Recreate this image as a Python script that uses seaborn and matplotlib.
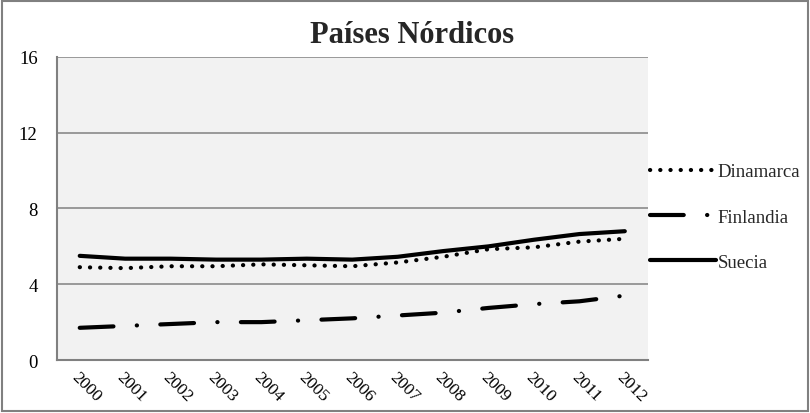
import pandas as pd
import matplotlib.pyplot as plt
import seaborn as sns
from matplotlib.patches import Rectangle

# Data
years = [str(y) for y in range(2000, 2013)]
dinamarca = [4.9, 4.85, 4.95, 4.95, 5.05, 5.0, 4.95, 5.15, 5.45, 5.85, 5.95, 6.25, 6.4]
finlandia = [1.7, 1.8, 1.9, 2.0, 2.0, 2.1, 2.2, 2.35, 2.5, 2.75, 2.95, 3.1, 3.4]
suecia = [5.5, 5.35, 5.35, 5.3, 5.3, 5.35, 5.3, 5.45, 5.75, 6.0, 6.35, 6.65, 6.8]
yticks = [0, 4, 8, 12, 16]

df = pd.DataFrame({"year": years, "Dinamarca": dinamarca,
                   "Finlandia": finlandia, "Suecia": suecia})
long = df.melt(id_vars="year", var_name="pais", value_name="valor")

sns.set_theme(style="white")
plt.rcParams["font.family"] = ["Liberation Serif", "DejaVu Serif"]

fig = plt.figure(figsize=(8.1, 4.14), dpi=100)
ax = fig.add_axes([0.0704, 0.128, 0.729, 0.732])
ax.set_facecolor("#f2f2f2")

styles = {
    "Dinamarca": dict(lw=3.0, ls=(0, (0.05, 2.4)), dash_capstyle="round"),
    "Finlandia": dict(lw=3.0, ls=(0, (8.1, 5.6, 0.05, 5.6)), dash_capstyle="round"),
    "Suecia": dict(lw=3.0, ls="-", solid_capstyle="round"),
}
for pais in ["Dinamarca", "Finlandia", "Suecia"]:
    sub = long[long["pais"] == pais]
    sns.lineplot(data=sub, x="year", y="valor", ax=ax, color="black",
                 label=pais, sort=False, **styles[pais])

ax.set_xlim(-0.5, len(years) - 0.5)
ax.set_ylim(0, 16)
ax.set_yticks(yticks)
ax.grid(axis="y", color="#8a8a8a", lw=1.2)
ax.set_axisbelow(True)
ax.set_xlabel("")
ax.set_ylabel("")
for s in ["top", "right"]:
    ax.spines[s].set_visible(False)
for s in ["left", "bottom"]:
    ax.spines[s].set_color("#808080")
    ax.spines[s].set_linewidth(1.5)
ax.tick_params(axis="both", length=0, colors="black")
ax.tick_params(axis="y", pad=14, labelsize=13.5)
ax.tick_params(axis="x", pad=6, labelsize=12.5)
plt.setp(ax.get_xticklabels(), rotation=-45, ha="left", rotation_mode="anchor")

fig.text(0.509, 0.896, "Países Nórdicos", fontsize=22, fontweight="bold",
         ha="center", va="baseline")

handles, labels = ax.get_legend_handles_labels()
ax.get_legend().remove()
fig.legend(handles, labels, loc="center left", bbox_to_anchor=(650 / 810, 1 - 218 / 414),
           frameon=False, fontsize=13.5, handlelength=3.5, handletextpad=0.1,
           labelspacing=1.5, borderaxespad=0, borderpad=0)

fig.patches.append(Rectangle((0.003, 0.005), 0.994, 0.99, transform=fig.transFigure,
                             fill=False, edgecolor="#808080", lw=1.5))

fig.savefig("out.png", dpi=100)
